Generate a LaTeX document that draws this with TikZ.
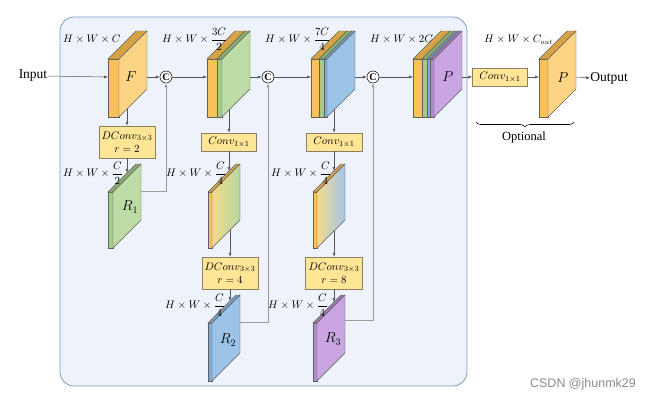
\documentclass[tikz,border=0pt]{standalone}
\usepackage{amsmath}
\usepackage{fontspec}
\setmainfont{Liberation Serif}
\newfontfamily\wmfont{Liberation Sans}
\usetikzlibrary{arrows.meta,decorations.pathreplacing,calc}
\definecolor{panelfill}{HTML}{EEF2FA}
\definecolor{paneldraw}{HTML}{7F9CC4}
\definecolor{edgec}{HTML}{5F5F5F}
\definecolor{arrowc}{HTML}{555555}
\definecolor{linkc}{HTML}{9A9A9A}
\definecolor{orF}{HTML}{F9C15A}
\definecolor{orS}{HTML}{FDD483}
\definecolor{orT}{HTML}{D6A445}
\definecolor{grF}{HTML}{A3CC87}
\definecolor{grS}{HTML}{BEDCA6}
\definecolor{grT}{HTML}{8BAE70}
\definecolor{blF}{HTML}{7FAEDC}
\definecolor{blS}{HTML}{9CC3E8}
\definecolor{blT}{HTML}{7BA2C8}
\definecolor{puF}{HTML}{B48AD3}
\definecolor{puS}{HTML}{C9A5E2}
\definecolor{puT}{HTML}{9E7AB8}
\definecolor{boxfill}{HTML}{FFE596}
\definecolor{boxdraw}{HTML}{8C7F62}
\definecolor{gyel}{HTML}{F3D98B}
\definecolor{ggrn}{HTML}{B8D8A0}
\definecolor{gblu}{HTML}{A3C7EA}
\newcommand\slabstripe[6]{%
  \filldraw[fill=#5,draw=edgec,line width=0.4pt] (#1,#3) rectangle (#2,#4);
  \filldraw[fill=#6,draw=edgec,line width=0.4pt] (#1,#3) -- ({#1+28},{#3-28}) -- ({#2+28},{#3-28}) -- (#2,#3) -- cycle;}
\newcommand\slabside[4]{%
  \filldraw[fill=#4,draw=edgec,line width=0.4pt] (#1,#3) -- (#1,#2) -- ({#1+28},{#2-28}) -- ({#1+28},{#3-28}) -- cycle;}
\newcommand\slabgrad[6]{%
  \shade[left color=#4,middle color=#5,right color=#6] (#1,#3) -- (#1,#2) -- ({#1+28},{#2-28}) -- ({#1+28},{#3-28}) -- cycle;
  \draw[draw=edgec,line width=0.4pt] (#1,#3) -- (#1,#2) -- ({#1+28},{#2-28}) -- ({#1+28},{#3-28}) -- cycle;}
\begin{document}
\begin{tikzpicture}[x=1pt,y=-1pt,
  arr/.style={-{Latex[length=4pt,width=3pt]},draw=arrowc,line width=0.5pt},
  link/.style={-{Latex[length=4pt,width=3pt]},draw=linkc,line width=0.6pt},
  circ/.style={circle,draw=black,fill=white,line width=0.5pt,inner sep=0pt,minimum size=12pt,font=\bfseries\fontsize{10}{10}\selectfont},
  opbox/.style={draw=boxdraw,fill=boxfill,line width=0.5pt,inner sep=1pt,align=center,font=\fontsize{11}{13}\selectfont},
  dim/.style={anchor=west,inner sep=0pt,font=\fontsize{10.5}{12}\selectfont},
  big/.style={inner sep=0pt,font=\fontsize{14}{16}\selectfont},
  txt/.style={inner sep=0pt,font=\fontsize{13.5}{15}\selectfont}]
\useasboundingbox (0,0) rectangle (654,402);
\fill[white] (0,0) rectangle (654,402);
\filldraw[fill=panelfill,draw=paneldraw,line width=0.8pt,rounded corners=14pt] (60,17) rectangle (467,386);

% ---- block F
\slabstripe{108}{119}{59}{117}{orF}{orT}
\slabside{119}{59}{117}{orS}
\node[big] (F) at (131,77) {$F$};
% ---- block 3C/2
\slabstripe{207}{217}{59}{117}{orF}{orT}
\slabstripe{217}{222}{59}{117}{grF}{grT}
\slabside{222}{59}{117}{grS}
% ---- block 7C/4
\slabstripe{311}{319}{59}{117}{orF}{orT}
\slabstripe{319}{324}{59}{117}{grF}{grT}
\slabstripe{324}{327}{59}{117}{blF}{blT}
\slabside{327}{59}{117}{blS}
% ---- block 2C
\slabstripe{413}{422}{59}{117}{orF}{orT}
\slabstripe{422}{427}{59}{117}{grF}{grT}
\slabstripe{427}{430}{59}{117}{blF}{blT}
\slabstripe{430}{434}{59}{117}{puF}{puT}
\slabside{434}{59}{117}{puS}
\node[big] (P1) at (448,77) {$P$};
% ---- output block
\slabstripe{539}{548}{59}{117}{orF}{orT}
\slabside{548}{59}{117}{orS}
\node[big] (P2) at (563,78) {$P$};

% ---- column slabs
\slabstripe{108}{113}{192}{248}{grF}{grT}
\slabside{113}{192}{248}{grS}
\node[big] (R1) at (130,207) {$R_1$};
\slabstripe{208}{212}{192}{248}{orF}{orT}
\slabgrad{212}{192}{248}{gyel}{gyel!50!ggrn}{ggrn}
\slabstripe{208}{212}{323}{381}{blF}{blT}
\slabside{212}{323}{381}{blS}
\node[big] (R2) at (228,340) {$R_2$};
\slabstripe{313}{317}{192}{248}{orF}{orT}
\slabgrad{317}{192}{248}{gyel}{ggrn!70!white}{gblu}
\slabstripe{313}{317}{323}{381}{puF}{puT}
\slabside{317}{323}{381}{puS}
\node[big] (R3) at (333,339) {$R_3$};

% ---- anchors on blocks
\coordinate (Fin) at (108,77);
\coordinate (Fout) at (147,77);
\coordinate (B2in) at (207,77);
\coordinate (B2out) at (250,77);
\coordinate (B3in) at (311,77);
\coordinate (B3out) at (355,77);
\coordinate (B4in) at (413,77);
\coordinate (B4out) at (462,77);
\coordinate (B5in) at (539,77);
\coordinate (B5out) at (576,77);
\coordinate (Fbot) at (127,109);
\coordinate (B2bot) at (229,110);
\coordinate (B3bot) at (334,110);
\coordinate (R1top) at (127,173);
\coordinate (G2top) at (229,171);
\coordinate (G2bot) at (230,230);
\coordinate (R2top) at (230,301);
\coordinate (G3top) at (334,171);
\coordinate (G3bot) at (334,231);
\coordinate (R3top) at (334,302);
\coordinate (R1out) at (141,191);
\coordinate (R2out) at (240,322);
\coordinate (R3out) at (345,320);

% ---- circles
\node[circ] (c1) at (166,77) {C};
\node[circ] (c2) at (268,77) {C};
\node[circ] (c3) at (373,77) {C};

% ---- boxes
\node[opbox,minimum width=56pt,minimum height=32pt] (d1) at (127,142) {$DConv_{3\times3}$\\$r=2$};
\node[opbox,minimum width=55pt,minimum height=18pt] (k2) at (229,142) {$Conv_{1\times1}$};
\node[opbox,minimum width=56pt,minimum height=32pt] (d2) at (230,273) {$DConv_{3\times3}$\\$r=4$};
\node[opbox,minimum width=56pt,minimum height=18pt] (k3) at (334,142) {$Conv_{1\times1}$};
\node[opbox,minimum width=57pt,minimum height=32pt] (d3) at (334,273) {$DConv_{3\times3}$\\$r=8$};
\node[opbox,minimum width=55pt,minimum height=18pt] (k4) at (500,77) {$Conv_{1\times1}$};

% ---- texts
\node[txt] (in) at (33,76) {Input};
\node[txt] (out) at (609,78) {Output};
\node[inner sep=0pt,font=\fontsize{12.5}{14}\selectfont] (opt) at (524,137) {Optional};
\node[dim] (l1) at (63,39) {$H\times W\times C$};
\node[dim] (l2) at (162,39) {$H\times W\times \dfrac{3C}{2}$};
\node[dim] (l3) at (265,39) {$H\times W\times \dfrac{7C}{4}$};
\node[dim] (l4) at (370,39) {$H\times W\times 2C$};
\node[dim] (l5) at (484,40) {$H\times W\times C_{out}$};
\node[dim] (l6) at (63,173) {$H\times W\times \dfrac{C}{2}$};
\node[dim] (l7) at (166,173) {$H\times W\times \dfrac{C}{4}$};
\node[dim] (l8) at (271,173) {$H\times W\times \dfrac{C}{4}$};
\node[dim] (l9) at (165,305) {$H\times W\times \dfrac{C}{4}$};
\node[dim] (l10) at (268,305) {$H\times W\times \dfrac{C}{4}$};
\node[inner sep=0pt,text=black!45,font=\wmfont\fontsize{12.5}{14}\selectfont] (wm) at (583,384) {CSDN @jhunmk29};

% ---- main flow
\draw[arr] (in.east) -- (Fin);
\draw[arr] (Fout) -- (c1.west);
\draw[arr] (c1.east) -- (B2in);
\draw[arr] (B2out) -- (c2.west);
\draw[arr] (c2.east) -- (B3in);
\draw[arr] (B3out) -- (c3.west);
\draw[arr] (c3.east) -- (B4in);
\draw[arr] (B4out) -- (k4.west);
\draw[arr] (k4.east) -- (B5in);
\draw[arr] (B5out) -- (out.west);

% ---- columns
\draw[arr] (Fbot) -- (d1.north);
\draw[arr] (d1.south) -- (R1top);
\draw[arr] (B2bot) -- (k2.north);
\draw[arr] (k2.south) -- (G2top);
\draw[arr] (G2bot) -- (d2.north);
\draw[arr] (d2.south) -- (R2top);
\draw[arr] (B3bot) -- (k3.north);
\draw[arr] (k3.south) -- (G3top);
\draw[arr] (G3bot) -- (d3.north);
\draw[arr] (d3.south) -- (R3top);

% ---- skip links
\draw[link] (R1out) -| (c1.south);
\draw[link] (R2out) -| (c2.south);
\draw[link] (R3out) -| (c3.south);

% ---- brace
\draw[line width=0.6pt,decorate,decoration={brace,amplitude=5pt}] (574,122) -- (476,122);
\end{tikzpicture}
\end{document}
